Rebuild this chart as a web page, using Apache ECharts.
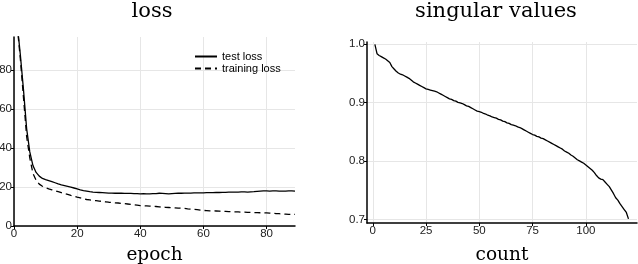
<!DOCTYPE html>
<html><head><meta charset="utf-8">
<script src="https://cdn.jsdelivr.net/npm/echarts@6/dist/echarts.min.js"></script>
<style>html,body{margin:0;padding:0;background:#fff}#c{width:638px;height:264px}</style>
</head><body><div id="c"></div>
<script>
const epochs = [1,2,3,4,5,6,7,8,9,10,11,12,13,14,15,16,17,18,19,20,21,22,23,24,25,26,27,28,29,30,31,32,33,34,35,36,37,38,39,40,41,42,43,44,45,46,47,48,49,50,51,52,53,54,55,56,57,58,59,60,61,62,63,64,65,66,67,68,69,70,71,72,73,74,75,76,77,78,79,80,81,82,83,84,85,86,87,88,89];
const testLoss = [104,88,70,50,38,31,27.5,25.6,24.4,23.8,23.3,22.8,22.2,21.6,21.1,20.7,20.3,19.9,19.5,19.1,18.6,18.2,17.9,17.6,17.4,17.3,17.2,17.1,17.0,16.9,16.9,16.8,16.8,16.8,16.7,16.7,16.7,16.6,16.6,16.5,16.6,16.5,16.5,16.6,16.6,16.8,16.7,16.6,16.5,16.6,16.7,16.8,16.8,16.9,16.9,16.9,17.0,17.0,17.0,17.0,17.1,17.1,17.1,17.2,17.2,17.3,17.3,17.4,17.4,17.4,17.4,17.5,17.5,17.4,17.5,17.6,17.8,17.9,18.0,18.0,17.9,18.0,18.0,17.9,17.9,17.9,18.0,18.0,17.9];
const trainLoss = [103,86,66,46,35,27,23.5,21.5,20.4,19.7,19.1,18.6,18.1,17.6,17.1,16.6,16.2,15.7,15.3,14.8,14.4,14.0,13.6,13.4,13.2,13.0,12.8,12.6,12.4,12.2,12.1,11.9,11.8,11.6,11.5,11.3,11.1,10.9,10.7,10.5,10.4,10.3,10.2,10.1,10.0,9.8,9.7,9.6,9.5,9.4,9.3,9.2,9.1,9.0,8.8,8.7,8.5,8.4,8.2,8.0,7.9,7.8,7.8,7.7,7.6,7.5,7.5,7.4,7.3,7.3,7.2,7.1,7.1,7.0,7.0,6.9,6.9,6.8,6.8,6.7,6.6,6.5,6.4,6.3,6.2,6.1,6.0,6.0,6.0];
const counts = [1,2,3,4,5,6,7,8,9,10,11,12,13,14,15,16,17,18,19,20,21,22,23,24,25,26,27,28,29,30,31,32,33,34,35,36,37,38,39,40,41,42,43,44,45,46,47,48,49,50,51,52,53,54,55,56,57,58,59,60,61,62,63,64,65,66,67,68,69,70,71,72,73,74,75,76,77,78,79,80,81,82,83,84,85,86,87,88,89,90,91,92,93,94,95,96,97,98,99,100,101,102,103,104,105,106,107,108,109,110,111,112,113,114,115,116,117,118,119,120];
const singularValues = [0.999,0.983,0.980,0.978,0.976,0.974,0.971,0.968,0.961,0.957,0.953,0.950,0.948,0.947,0.945,0.943,0.941,0.938,0.935,0.933,0.931,0.929,0.927,0.925,0.923,0.922,0.921,0.920,0.919,0.918,0.916,0.914,0.912,0.910,0.908,0.906,0.905,0.903,0.902,0.900,0.899,0.898,0.896,0.894,0.893,0.891,0.889,0.887,0.885,0.884,0.883,0.881,0.880,0.878,0.877,0.875,0.874,0.873,0.871,0.870,0.868,0.867,0.865,0.864,0.862,0.861,0.860,0.858,0.857,0.855,0.853,0.851,0.849,0.847,0.845,0.844,0.842,0.841,0.839,0.838,0.836,0.834,0.832,0.830,0.828,0.826,0.824,0.822,0.820,0.817,0.815,0.813,0.810,0.808,0.805,0.802,0.800,0.798,0.796,0.793,0.790,0.787,0.784,0.780,0.775,0.771,0.769,0.768,0.764,0.760,0.756,0.750,0.744,0.737,0.733,0.727,0.722,0.717,0.712,0.701];
const lossXTicks = [0,20,40,60,80];
const lossYTicks = [0,20,40,60,80];
const svXTicks = [0,25,50,75,100];
const svYTicks = [0.7,0.8,0.9,1.0];
const titles = ['loss','singular values'];
const xNames = ['epoch','count'];
const seriesNames = ['test loss','training loss'];

const chart = echarts.init(document.getElementById('c'));
const sans = 'Liberation Sans';
const serif = 'DejaVu Serif';
function xAxis(idx, min, max, ticks, name, gap){
  return {type:'value', gridIndex:idx, min:min, max:max,
    name:name, nameLocation:'middle', nameGap:gap,
    nameTextStyle:{fontFamily:serif, fontSize:18.5, color:'#000'},
    axisLine:{show:true, onZero:false, lineStyle:{color:'#000', width:1.5}},
    axisTick:{show:true, length:3, customValues:ticks, lineStyle:{color:'#000'}},
    axisLabel:{customValues:ticks, fontFamily:sans, fontSize:11.5, color:'#222', margin:2},
    splitLine:{show:true, lineStyle:{color:'#e6e6e6', width:1}}};
}
function yAxis(idx, min, max, ticks, fmt){
  return {type:'value', gridIndex:idx, min:min, max:max,
    axisLine:{show:true, onZero:false, lineStyle:{color:'#000', width:1.5}},
    axisTick:{show:true, length:3, customValues:ticks, lineStyle:{color:'#000'}},
    axisLabel:{customValues:ticks, fontFamily:sans, fontSize:11.5, color:'#222', margin:2, formatter:fmt},
    splitLine:{show:true, lineStyle:{color:'#e6e6e6', width:1}}};
}
chart.setOption({
  animation:false,
  backgroundColor:'#fff',
  title:[
    {text:titles[0], left:147, top:-4, textAlign:'center', textStyle:{fontFamily:serif, fontSize:21, fontWeight:'normal', color:'#000'}},
    {text:titles[1], left:491, top:-4, textAlign:'center', textStyle:{fontFamily:serif, fontSize:21, fontWeight:'normal', color:'#000'}}
  ],
  grid:[
    {left:14, right:343, top:37, bottom:38, outerBoundsMode:'none', containLabel:false},
    {left:367, right:1, top:42, bottom:41, outerBoundsMode:'none', containLabel:false}
  ],
  xAxis:[xAxis(0,0,89,lossXTicks,xNames[0],20), xAxis(1,-2.7,124,svXTicks,xNames[1],23)],
  yAxis:[yAxis(0,0,97,lossYTicks), yAxis(1,0.694,1.003,svYTicks,v=>v.toFixed(1))],
  legend:{show:true, left:194, top:51, right:'auto', bottom:'auto', orient:'vertical', itemGap:1, itemWidth:22, itemHeight:8,
    padding:0,
    itemStyle:{opacity:0},
    textStyle:{fontFamily:sans, fontSize:11, color:'#000'},
    data:[{name:seriesNames[0]},{name:seriesNames[1]}]},
  series:[
    {name:seriesNames[0], type:'line', xAxisIndex:0, yAxisIndex:0, data:epochs.map((e,i)=>[e,testLoss[i]]),
      showSymbol:false, symbol:'none', clip:true, lineStyle:{color:'#000', width:1.3}, itemStyle:{color:'#000'}},
    {name:seriesNames[1], type:'line', xAxisIndex:0, yAxisIndex:0, data:epochs.map((e,i)=>[e,trainLoss[i]]),
      showSymbol:false, symbol:'none', clip:true, lineStyle:{color:'#000', width:1.3, type:[6,4]}, itemStyle:{color:'#000'}},
    {name:'sv', type:'line', xAxisIndex:1, yAxisIndex:1, data:counts.map((c,i)=>[c,singularValues[i]]),
      showSymbol:false, symbol:'none', clip:true, lineStyle:{color:'#000', width:1.3}, itemStyle:{color:'#000'}}
  ]
});
</script></body></html>
